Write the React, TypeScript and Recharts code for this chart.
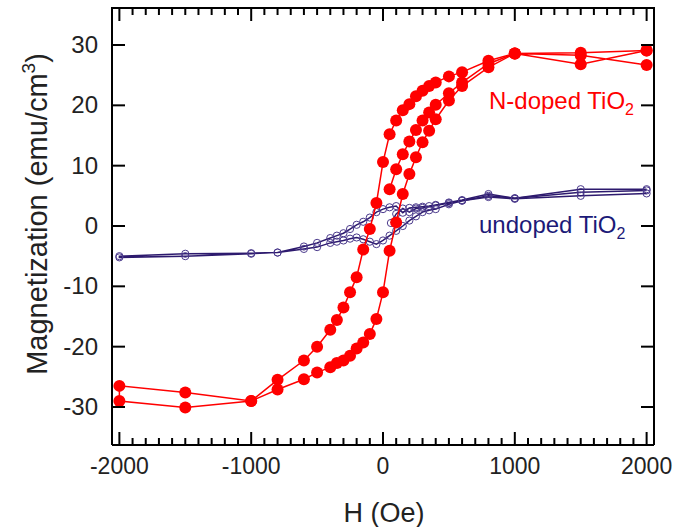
import React from 'react';
import { ScatterChart, Scatter, XAxis, YAxis, Label } from 'recharts';

const RED = '#ff0000';
const NAVY = '#2d1a6e';
const FONT = '"Liberation Sans", Arial, Helvetica, sans-serif';

// N-doped TiO2 — initial curve, then field down to -2000, then back up to +2000
const nInitH = [50, 100, 150, 200, 250, 300, 350, 400, 500, 600, 800, 1000, 1500, 2000];
const nInitM = [6.1, 9.4, 11.9, 14.0, 15.9, 17.5, 18.8, 20.1, 22.0, 23.8, 26.9, 28.6, 28.7, 29.1];
const nDownH = [2000, 1500, 1000, 800, 600, 500, 400, 350, 300, 250, 200, 150, 100, 50, 0, -50, -100, -150, -200, -250, -300, -350, -400, -500, -600, -800, -1000, -1500, -2000];
const nDownM = [29.1, 26.8, 28.6, 27.4, 25.5, 24.8, 23.8, 23.2, 22.4, 21.5, 20.2, 19.2, 17.5, 15.2, 10.6, 3.8, -0.5, -3.9, -8.5, -11.0, -13.5, -15.6, -17.2, -20.0, -22.3, -25.5, -29.0, -27.6, -26.5];
const nUpH = [-2000, -1500, -1000, -800, -600, -500, -400, -350, -300, -250, -200, -150, -100, -50, 0, 50, 100, 150, 200, 250, 300, 350, 400, 500, 600, 800, 1000, 1500, 2000];
const nUpM = [-29.0, -30.1, -29.0, -27.1, -25.4, -24.3, -23.4, -22.7, -22.3, -21.5, -20.3, -19.3, -17.9, -15.4, -11.0, -4.1, 0.6, 5.3, 8.6, 11.4, 13.9, 15.8, 17.7, 20.8, 23.2, 26.3, 28.6, 28.3, 26.7];

// undoped TiO2
const uInitH = [60, 100, 150, 200, 250, 300, 400, 500, 600, 800, 1000, 1500, 2000];
const uInitM = [0.5, 2.0, 2.9, 2.3, 2.9, 3.0, 3.4, 3.8, 4.2, 5.0, 4.6, 5.6, 5.9];
const uDownH = [2000, 1500, 1000, 800, 600, 500, 400, 350, 300, 250, 200, 150, 100, 50, 0, -50, -100, -150, -200, -250, -300, -350, -400, -500, -600, -800, -1000, -1500, -2000];
const uDownM = [6.1, 6.1, 4.6, 5.3, 4.3, 3.9, 3.5, 3.3, 3.2, 3.1, 3.0, 2.2, 3.3, 3.1, 2.8, 2.3, 1.4, 0.7, 0.2, -0.5, -1.2, -1.6, -2.0, -2.8, -3.4, -4.4, -4.5, -4.6, -5.0];
const uUpH = [-2000, -1500, -1000, -800, -600, -500, -400, -350, -300, -250, -200, -150, -100, -50, 0, 50, 100, 150, 200, 250, 300, 350, 400, 500, 600, 800, 1000, 1500, 2000];
const uUpM = [-5.2, -5.0, -4.6, -4.4, -3.8, -3.5, -2.8, -2.6, -2.4, -2.1, -1.9, -2.2, -2.6, -3.0, -2.4, -1.6, -0.8, 0.0, 0.9, 1.6, 2.3, 2.6, 2.8, 3.6, 4.2, 4.8, 4.5, 5.0, 5.4];

const xMajor = [-2000, -1000, 0, 1000, 2000];
const yMajor = [-30, -20, -10, 0, 10, 20, 30];
const xDomain = [-2056, 2056];
const yDomain = [-36.3, 36.3];

const zip = (h: number[], m: number[]) => h.map((v, i) => ({ h: v, m: m[i] }));
const nData = zip(nInitH, nInitM);
const nLoop = [...zip(nDownH, nDownM), ...zip(nUpH, nUpM)];
const uData = zip(uInitH, uInitM);
const uLoop = [...zip(uDownH, uDownM), ...zip(uUpH, uUpM)];

// minor ticks every 100 Oe
const xTicks: number[] = [];
for (let v = -2000; v <= 2000; v += 100) xTicks.push(v);

const BottomTick = (p: any) => {
    const v = p.payload.value;
    const major = xMajor.includes(v);
    return (
        <g>
            <line x1={p.x} x2={p.x} y1={p.y} y2={p.y - (major ? 13 : 7)} stroke="#000" strokeWidth={2} />
            {major && (
                <text x={p.x} y={p.y + 29} textAnchor="middle" fontSize={23} fill="#222" fontFamily={FONT}>{v}</text>
            )}
        </g>
    );
};

// top axis sits 1px above the plot, so ticks start one pixel lower
const TopTick = (p: any) => {
    const major = xMajor.includes(p.payload.value);
    return <line x1={p.x} x2={p.x} y1={p.y + 1} y2={p.y + 1 + (major ? 13 : 7)} stroke="#000" strokeWidth={2} />;
};

const LeftTick = (p: any) => (
    <g>
        <line x1={p.x} x2={p.x + 13} y1={p.y} y2={p.y} stroke="#000" strokeWidth={2} />
        <text x={p.x - 14} y={p.y + 8} textAnchor="end" fontSize={24} fill="#222" fontFamily={FONT}>{p.payload.value}</text>
    </g>
);

const RightTick = (p: any) => (
    <line x1={p.x - 1} x2={p.x - 13} y1={p.y} y2={p.y} stroke="#000" strokeWidth={2} />
);

const RedDot = (p: any) => <circle cx={p.cx} cy={p.cy} r={6} fill={RED} />;
const OpenDot = (p: any) => <circle cx={p.cx} cy={p.cy} r={3.6} fill="none" stroke="#4b3a8c" strokeWidth={1} />;

const frame = { stroke: '#000', strokeWidth: 2 };

const App = () => (
    <div style={{ position: 'absolute', left: 0, top: 0, width: 673, height: 527, background: '#fff' }}>
        <ScatterChart width={673} height={527} margin={{ top: 6, right: 18, left: 52, bottom: 32 }}>
            <XAxis xAxisId={0} dataKey="h" type="number" domain={xDomain} allowDataOverflow ticks={xTicks} interval={0}
                tick={BottomTick} tickSize={0} tickMargin={0} height={50} axisLine={frame}>
                <Label content={() => (
                    <text x={384} y={522} textAnchor="middle" fontSize={27} fill="#222" fontFamily={FONT}>H (Oe)</text>
                )} />
            </XAxis>
            <XAxis xAxisId="top" orientation="top" dataKey="h" type="number" domain={xDomain} allowDataOverflow ticks={xTicks} interval={0}
                tick={TopTick} tickSize={0} tickMargin={0} height={1} axisLine={{ stroke: '#000', strokeWidth: 2, transform: 'translate(0,1)' }} />
            <YAxis yAxisId={0} dataKey="m" type="number" domain={yDomain} allowDataOverflow ticks={yMajor} interval={0}
                tick={LeftTick} tickSize={0} tickMargin={0} width={60} axisLine={frame}>
                <Label content={() => (
                    <text x={47} y={214} transform="rotate(-90 47 214)" textAnchor="middle" fontSize={29} fill="#222" fontFamily={FONT}>
                        Magnetization (emu/cm<tspan dy={-12} fontSize={19}>3</tspan><tspan dy={12}>)</tspan>
                    </text>
                )} />
            </YAxis>
            <YAxis yAxisId="right" orientation="right" dataKey="m" type="number" domain={yDomain} allowDataOverflow ticks={yMajor} interval={0}
                tick={RightTick} tickSize={0} tickMargin={0} width={1} axisLine={frame} />

            <Scatter data={[]} xAxisId="top" yAxisId="right" dataKey="m" isAnimationActive={false} />
            <Scatter data={uData} dataKey="m" fill={NAVY} line={{ stroke: NAVY, strokeWidth: 1.5 }} lineType="joint" shape={OpenDot} isAnimationActive={false} />
            <Scatter data={uLoop} dataKey="m" fill={NAVY} line={{ stroke: NAVY, strokeWidth: 1.5 }} lineType="joint" shape={OpenDot} isAnimationActive={false} />
            <Scatter data={nData} dataKey="m" fill={RED} line={{ stroke: RED, strokeWidth: 1.5 }} lineType="joint" shape={RedDot} isAnimationActive={false} />
            <Scatter data={nLoop} dataKey="m" fill={RED} line={{ stroke: RED, strokeWidth: 1.5 }} lineType="joint" shape={RedDot} isAnimationActive={false} />
        </ScatterChart>
        <div style={{ position: 'absolute', left: 489, top: 87, fontFamily: FONT, fontSize: 24, color: RED, lineHeight: '28px', whiteSpace: 'nowrap' }}>
            N-doped TiO<sub style={{ fontSize: 16, verticalAlign: -6 }}>2</sub>
        </div>
        <div style={{ position: 'absolute', left: 479, top: 211, fontFamily: FONT, fontSize: 24, color: '#1c1a78', lineHeight: '28px', whiteSpace: 'nowrap' }}>
            undoped TiO<sub style={{ fontSize: 16, verticalAlign: -6 }}>2</sub>
        </div>
    </div>
);

export default App;
